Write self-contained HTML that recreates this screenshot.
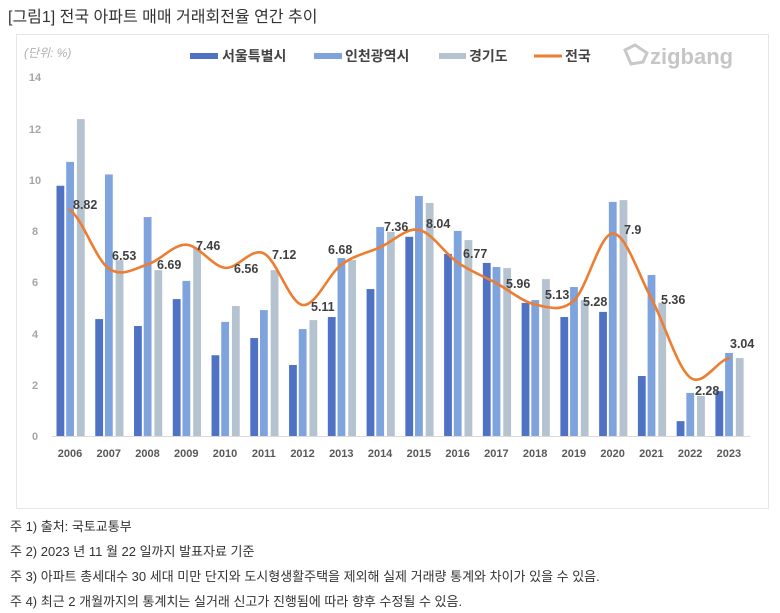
<!DOCTYPE html>
<html><head><meta charset="utf-8"><style>
body{margin:0;background:#fff;width:780px;height:613px;overflow:hidden;font-family:"Liberation Sans","Noto Sans CJK KR",sans-serif}
.t{position:absolute;white-space:nowrap}
</style></head><body>
<div class="t" style="left:8px;top:3px;font-size:16px;color:#333">[그림1] 전국 아파트 매매 거래회전율 연간 추이</div>
<div style="position:absolute;left:16px;top:34px;width:751px;height:473px;border:1px solid #e6e6e6"></div>
<svg width="780" height="613" style="position:absolute;left:0;top:0" font-family="Liberation Sans, Noto Sans CJK KR, sans-serif">
<text x="24" y="57" font-size="12" font-style="italic" fill="#b0b0b0">(단위: %)</text>
<g font-size="11" font-weight="bold" fill="#a6a6a6" text-anchor="middle">
<text x="35" y="81">14</text><text x="35" y="133">12</text><text x="35" y="184">10</text><text x="35" y="235">8</text><text x="35" y="286">6</text><text x="35" y="338">4</text><text x="35" y="389">2</text><text x="35" y="440">0</text>
</g>
<!-- legend -->
<rect x="190" y="53" width="28" height="6" fill="#4f72c4"/><text x="222" y="61" font-size="14" font-weight="bold" fill="#444">서울특별시</text>
<rect x="314" y="53" width="28" height="6" fill="#7fa3dc"/><text x="345" y="61" font-size="14" font-weight="bold" fill="#444">인천광역시</text>
<rect x="439" y="53" width="27" height="6" fill="#b5c2cf"/><text x="469" y="61" font-size="14" font-weight="bold" fill="#444">경기도</text>
<rect x="534" y="54.5" width="28" height="3" fill="#ed7d31"/><text x="565" y="61" font-size="14" font-weight="bold" fill="#444">전국</text>
<path d="M625,50 l10,-5 l12,8 l-4,9 l-12,2 z" fill="none" stroke="#c8c8c8" stroke-width="3"/>
<text x="650" y="64" font-size="22" font-weight="bold" fill="#c6c6c6">zigbang</text>
<line x1="52" y1="436.5" x2="750" y2="436.5" stroke="#d9d9d9"/>
<!-- bars -->
<g id="bars">
<g transform="translate(70,436) scale(1,-25.64)"><rect x="-13.5" y="0" width="7.8" height="9.76" fill="#4f72c4"/><rect x="-3.8" y="0" width="7.8" height="10.69" fill="#7fa3dc"/><rect x="6.9" y="0" width="7.8" height="12.36" fill="#b5c2cf"/></g>
<g transform="translate(108.76,436) scale(1,-25.64)"><rect x="-13.5" y="0" width="7.8" height="4.56" fill="#4f72c4"/><rect x="-3.8" y="0" width="7.8" height="10.2" fill="#7fa3dc"/><rect x="6.9" y="0" width="7.8" height="6.86" fill="#b5c2cf"/></g>
<g transform="translate(147.52,436) scale(1,-25.64)"><rect x="-13.5" y="0" width="7.8" height="4.29" fill="#4f72c4"/><rect x="-3.8" y="0" width="7.8" height="8.54" fill="#7fa3dc"/><rect x="6.9" y="0" width="7.8" height="6.47" fill="#b5c2cf"/></g>
<g transform="translate(186.28,436) scale(1,-25.64)"><rect x="-13.5" y="0" width="7.8" height="5.34" fill="#4f72c4"/><rect x="-3.8" y="0" width="7.8" height="6.05" fill="#7fa3dc"/><rect x="6.9" y="0" width="7.8" height="7.33" fill="#b5c2cf"/></g>
<g transform="translate(225.04,436) scale(1,-25.64)"><rect x="-13.5" y="0" width="7.8" height="3.15" fill="#4f72c4"/><rect x="-3.8" y="0" width="7.8" height="4.45" fill="#7fa3dc"/><rect x="6.9" y="0" width="7.8" height="5.07" fill="#b5c2cf"/></g>
<g transform="translate(263.8,436) scale(1,-25.64)"><rect x="-13.5" y="0" width="7.8" height="3.82" fill="#4f72c4"/><rect x="-3.8" y="0" width="7.8" height="4.91" fill="#7fa3dc"/><rect x="6.9" y="0" width="7.8" height="6.47" fill="#b5c2cf"/></g>
<g transform="translate(302.56,436) scale(1,-25.64)"><rect x="-13.5" y="0" width="7.8" height="2.77" fill="#4f72c4"/><rect x="-3.8" y="0" width="7.8" height="4.17" fill="#7fa3dc"/><rect x="6.9" y="0" width="7.8" height="4.52" fill="#b5c2cf"/></g>
<g transform="translate(341.32,436) scale(1,-25.64)"><rect x="-13.5" y="0" width="7.8" height="4.64" fill="#4f72c4"/><rect x="-3.8" y="0" width="7.8" height="6.94" fill="#7fa3dc"/><rect x="6.9" y="0" width="7.8" height="6.86" fill="#b5c2cf"/></g>
<g transform="translate(380.08,436) scale(1,-25.64)"><rect x="-13.5" y="0" width="7.8" height="5.73" fill="#4f72c4"/><rect x="-3.8" y="0" width="7.8" height="8.15" fill="#7fa3dc"/><rect x="6.9" y="0" width="7.8" height="7.96" fill="#b5c2cf"/></g>
<g transform="translate(418.84,436) scale(1,-25.64)"><rect x="-13.5" y="0" width="7.8" height="7.77" fill="#4f72c4"/><rect x="-3.8" y="0" width="7.8" height="9.36" fill="#7fa3dc"/><rect x="6.9" y="0" width="7.8" height="9.09" fill="#b5c2cf"/></g>
<g transform="translate(457.6,436) scale(1,-25.64)"><rect x="-13.5" y="0" width="7.8" height="7.1" fill="#4f72c4"/><rect x="-3.8" y="0" width="7.8" height="8.0" fill="#7fa3dc"/><rect x="6.9" y="0" width="7.8" height="7.64" fill="#b5c2cf"/></g>
<g transform="translate(496.36,436) scale(1,-25.64)"><rect x="-13.5" y="0" width="7.8" height="6.75" fill="#4f72c4"/><rect x="-3.8" y="0" width="7.8" height="6.59" fill="#7fa3dc"/><rect x="6.9" y="0" width="7.8" height="6.55" fill="#b5c2cf"/></g>
<g transform="translate(535.12,436) scale(1,-25.64)"><rect x="-13.5" y="0" width="7.8" height="5.19" fill="#4f72c4"/><rect x="-3.8" y="0" width="7.8" height="5.3" fill="#7fa3dc"/><rect x="6.9" y="0" width="7.8" height="6.12" fill="#b5c2cf"/></g>
<g transform="translate(573.88,436) scale(1,-25.64)"><rect x="-13.5" y="0" width="7.8" height="4.64" fill="#4f72c4"/><rect x="-3.8" y="0" width="7.8" height="5.81" fill="#7fa3dc"/><rect x="6.9" y="0" width="7.8" height="5.3" fill="#b5c2cf"/></g>
<g transform="translate(612.64,436) scale(1,-25.64)"><rect x="-13.5" y="0" width="7.8" height="4.84" fill="#4f72c4"/><rect x="-3.8" y="0" width="7.8" height="9.13" fill="#7fa3dc"/><rect x="6.9" y="0" width="7.8" height="9.2" fill="#b5c2cf"/></g>
<g transform="translate(651.4,436) scale(1,-25.64)"><rect x="-13.5" y="0" width="7.8" height="2.34" fill="#4f72c4"/><rect x="-3.8" y="0" width="7.8" height="6.28" fill="#7fa3dc"/><rect x="6.9" y="0" width="7.8" height="5.2" fill="#b5c2cf"/></g>
<g transform="translate(690.16,436) scale(1,-25.64)"><rect x="-13.5" y="0" width="7.8" height="0.58" fill="#4f72c4"/><rect x="-3.8" y="0" width="7.8" height="1.68" fill="#7fa3dc"/><rect x="6.9" y="0" width="7.8" height="1.56" fill="#b5c2cf"/></g>
<g transform="translate(728.92,436) scale(1,-25.64)"><rect x="-13.5" y="0" width="7.8" height="1.75" fill="#4f72c4"/><rect x="-3.8" y="0" width="7.8" height="3.24" fill="#7fa3dc"/><rect x="6.9" y="0" width="7.8" height="3.04" fill="#b5c2cf"/></g>
</g>
<path fill="none" stroke="#ed7d31" stroke-width="2.6" stroke-linecap="round" d="M70,209.9 C82.92,219.68 95.84,259.5 108.76,268.6 C121.68,277.7 134.6,268.48 147.52,264.5 C160.44,260.52 173.36,244.15 186.28,244.7 C199.2,245.25 212.12,266.35 225.04,267.8 C237.96,269.25 250.88,247.2 263.8,253.4 C276.72,259.6 289.64,303.12 302.56,305.0 C315.48,306.88 328.4,274.32 341.32,264.7 C354.24,255.08 367.16,253.1 380.08,247.3 C393,241.5 405.92,227.38 418.84,229.9 C431.76,232.42 444.68,253.52 457.6,262.4 C470.52,271.28 483.44,276.18 496.36,283.2 C509.28,290.22 522.2,301.6 535.12,304.5 C548.04,307.4 560.96,312.45 573.88,300.6 C586.8,288.75 599.72,233.73 612.64,233.4 C625.56,233.07 638.48,274.58 651.4,298.6 C664.32,322.62 677.24,367.58 690.16,377.5 C703.08,387.42 716,361.33 728.92,358.1"/>
<g font-size="12.5" font-weight="bold" fill="#404040">
<text x="73" y="209">8.82</text><text x="112" y="260">6.53</text><text x="157" y="269">6.69</text><text x="196" y="250">7.46</text><text x="234" y="273">6.56</text><text x="272" y="259">7.12</text><text x="311" y="311">5.11</text><text x="328" y="254">6.68</text><text x="384" y="231">7.36</text><text x="426" y="228">8.04</text><text x="463" y="258">6.77</text><text x="506" y="288">5.96</text><text x="545" y="299">5.13</text><text x="583" y="306">5.28</text><text x="624" y="234">7.9</text><text x="661" y="304">5.36</text><text x="695" y="395">2.28</text><text x="730" y="348">3.04</text>
</g>
<g font-size="11" font-weight="bold" fill="#595959" text-anchor="middle">
<text x="70" y="457">2006</text><text x="108.76" y="457">2007</text><text x="147.52" y="457">2008</text><text x="186.28" y="457">2009</text><text x="225.04" y="457">2010</text><text x="263.8" y="457">2011</text><text x="302.56" y="457">2012</text><text x="341.32" y="457">2013</text><text x="380.08" y="457">2014</text><text x="418.84" y="457">2015</text><text x="457.6" y="457">2016</text><text x="496.36" y="457">2017</text><text x="535.12" y="457">2018</text><text x="573.88" y="457">2019</text><text x="612.64" y="457">2020</text><text x="651.4" y="457">2021</text><text x="690.16" y="457">2022</text><text x="728.92" y="457">2023</text>
</g>
</svg>
<div class="t" style="left:10px;top:516px;font-size:13px;color:#333">주 1) 출처: 국토교통부</div>
<div class="t" style="left:10px;top:541px;font-size:13px;color:#333">주 2) 2023 년 11 월 22 일까지 발표자료 기준</div>
<div class="t" style="left:10px;top:566px;font-size:13px;color:#333">주 3) 아파트 총세대수 30 세대 미만 단지와 도시형생활주택을 제외해 실제 거래량 통계와 차이가 있을 수 있음.</div>
<div class="t" style="left:10px;top:591px;font-size:13px;color:#333">주 4) 최근 2 개월까지의 통계치는 실거래 신고가 진행됨에 따라 향후 수정될 수 있음.</div>
</body></html>
